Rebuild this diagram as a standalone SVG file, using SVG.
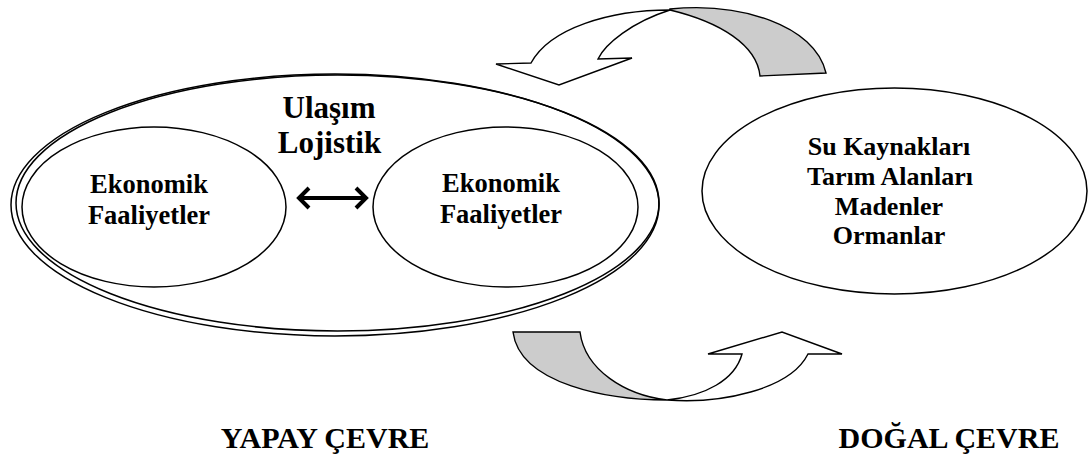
<svg xmlns="http://www.w3.org/2000/svg" width="1088" height="459" viewBox="0 0 1088 459">
<defs>
<style>
.ln{fill:none;stroke:#000;stroke-width:1.5}
.t{font-family:"Liberation Serif","Times New Roman",serif;font-weight:bold;fill:#000;text-anchor:middle}
.band{fill:#fff;stroke:#000;stroke-width:1.4;stroke-linejoin:miter}
.gray{fill:#cccccc;stroke:#000;stroke-width:1.4;stroke-linejoin:miter}
.dbl{fill:none;stroke:#000;stroke-width:4}
</style>
<marker id="chev" markerUnits="userSpaceOnUse" markerWidth="16" markerHeight="26" viewBox="0 0 16 26" refX="13" refY="13" orient="auto-start-reverse">
<path d="M3,3 L13,13 L3,23" fill="none" stroke="#000" stroke-width="4"/>
</marker>
</defs>
<rect width="1088" height="459" fill="#fff"/>
<g id="yapay-cevre-alani">
<ellipse class="ln" cx="335" cy="205" rx="324" ry="131"/>
<ellipse class="ln" cx="337.5" cy="203" rx="321.5" ry="128"/>
<text class="t" x="329" y="118" font-size="31">Ulaşım</text>
<text class="t" x="329.5" y="153" font-size="31">Lojistik</text>
</g>
<g id="ekonomik-faaliyetler-1">
<ellipse class="ln" cx="154" cy="207" rx="132" ry="80"/>
<text class="t" x="149" y="193" font-size="26.5">Ekonomik</text>
<text class="t" x="149" y="224" font-size="26.5">Faaliyetler</text>
</g>
<g id="ekonomik-faaliyetler-2">
<ellipse class="ln" cx="505.5" cy="207" rx="132.5" ry="80"/>
<text class="t" x="501" y="192" font-size="26.5">Ekonomik</text>
<text class="t" x="501" y="223" font-size="26.5">Faaliyetler</text>
</g>
<g id="dogal-kaynaklar">
<ellipse class="ln" cx="894.5" cy="191" rx="192.5" ry="103"/>
<text class="t" x="889" y="155" font-size="26">Su Kaynakları</text>
<text class="t" x="890" y="185" font-size="26">Tarım Alanları</text>
<text class="t" x="889" y="215" font-size="26">Madenler</text>
<text class="t" x="889" y="244" font-size="26">Ormanlar</text>
</g>
<g id="label-yapay">
<text class="t" x="325" y="448" font-size="30">YAPAY ÇEVRE</text>
</g>
<g id="label-dogal">
<text class="t" x="949" y="448" font-size="30">DOĞAL ÇEVRE</text>
</g>
<g id="connectors">
<path class="dbl" d="M299,198 L366,198" marker-start="url(#chev)" marker-end="url(#chev)"/>
<path class="gray" d="M670,9 C740,2 815,25 826,73 L760,76 C757,45 720,22 670,10 Z"/>
<path class="band" d="M531,63 L496,64 L559,85 L632,58 L598,59 C605,44 632,22 670,10 C610,10 550,28 531,63 Z"/>
<path class="gray" d="M513,332 L580,332 C585,370 625,395 667,400 C610,400 520,385 513,332 Z"/>
<path class="band" d="M667,400 C720,404 790,390 808,354 L842,354 L782,332 L708,354 L742,354 C735,380 705,396 667,400 Z"/>
</g>
</svg>
